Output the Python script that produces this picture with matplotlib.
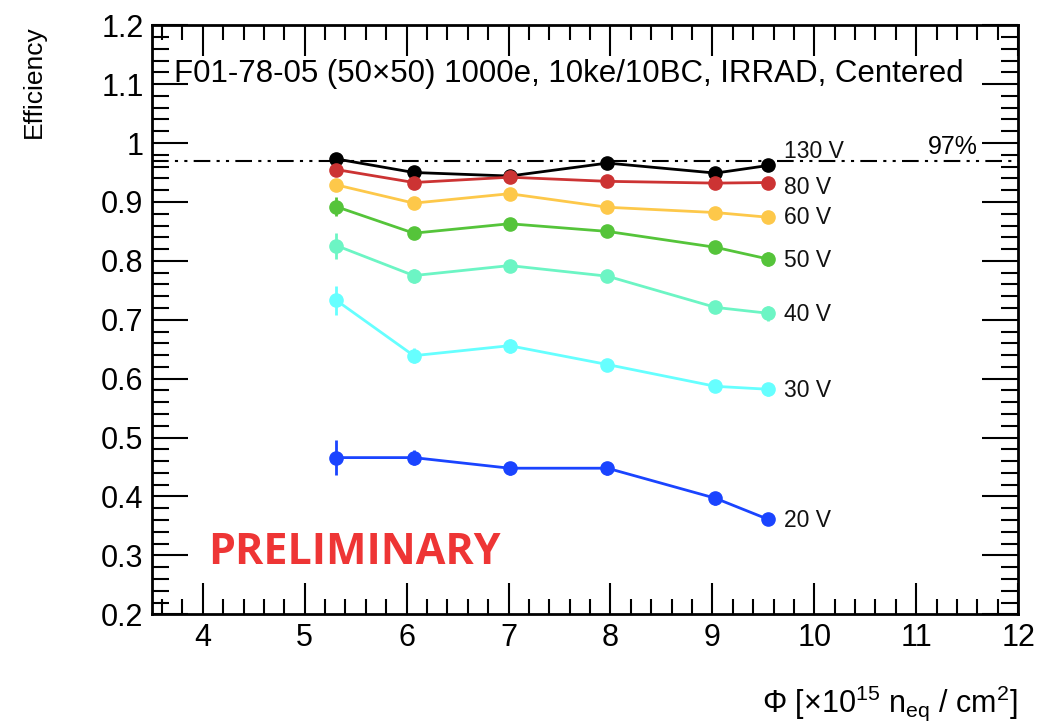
import matplotlib
matplotlib.use("Agg")
import matplotlib.pyplot as plt
from matplotlib.ticker import MultipleLocator

plt.rcParams['font.family'] = ['Liberation Sans', 'DejaVu Sans']
plt.rcParams['mathtext.fontset'] = 'custom'
plt.rcParams['mathtext.rm'] = 'Liberation Sans'
plt.rcParams['mathtext.it'] = 'Liberation Sans'

# fluence points [x10^15 neq/cm2]
fluence = [5.31, 6.07, 7.01, 7.97, 9.03, 9.55]

# efficiency per bias voltage
voltages = ['130 V', '80 V', '60 V', '50 V', '40 V', '30 V', '20 V']
eff = {
    '130 V': [0.973, 0.950, 0.944, 0.966, 0.949, 0.962],
    '80 V': [0.955, 0.933, 0.942, 0.935, 0.932, 0.933],
    '60 V': [0.929, 0.898, 0.914, 0.891, 0.882, 0.874],
    '50 V': [0.892, 0.847, 0.863, 0.850, 0.823, 0.803],
    '40 V': [0.826, 0.775, 0.792, 0.774, 0.721, 0.711],
    '30 V': [0.733, 0.639, 0.656, 0.624, 0.587, 0.582],
    '20 V': [0.466, 0.466, 0.448, 0.448, 0.397, 0.361],
}
err = {
    '130 V': [0.005, 0.005, 0.005, 0.005, 0.005, 0.005],
    '80 V': [0.006, 0.006, 0.006, 0.006, 0.006, 0.006],
    '60 V': [0.008, 0.006, 0.006, 0.006, 0.006, 0.006],
    '50 V': [0.016, 0.009, 0.009, 0.009, 0.009, 0.012],
    '40 V': [0.022, 0.012, 0.009, 0.009, 0.009, 0.013],
    '30 V': [0.025, 0.013, 0.012, 0.010, 0.009, 0.011],
    '20 V': [0.030, 0.013, 0.011, 0.011, 0.011, 0.010],
}
colors = {
    '130 V': '#000000', '80 V': '#cc3333', '60 V': '#fdc84a', '50 V': '#55c43a',
    '40 V': '#6cf5c4', '30 V': '#66ffff', '20 V': '#1a44ff',
}
label_y = {'130 V': 0.985, '80 V': 0.925, '60 V': 0.874, '50 V': 0.800,
           '40 V': 0.709, '30 V': 0.580, '20 V': 0.360}
threshold = 0.97

fig = plt.figure(figsize=(10.4, 7.21), dpi=100)
ax = fig.add_axes([0.146, 0.148, 0.833, 0.817])

for v in voltages:
    ax.errorbar(fluence, eff[v], yerr=err[v], color=colors[v], marker='o',
                markersize=9.5, lw=2, elinewidth=2, capsize=0, zorder=3)
    ax.text(fluence[-1] + 0.15, label_y[v], v, fontsize=16.5, va='center',
            ha='left', color='#111111')

ax.axhline(threshold, color='black', lw=1.5, dashes=[8, 3, 1.5, 3, 1.5, 3], zorder=2)
ax.text(11.6, threshold + 0.003, '97%', fontsize=18, ha='right', va='bottom')

ax.set_xlim(3.5, 12)
ax.set_ylim(0.2, 1.2)
ax.xaxis.set_major_locator(MultipleLocator(1))
ax.xaxis.set_minor_locator(MultipleLocator(0.2))
ax.yaxis.set_minor_locator(MultipleLocator(0.02))
ax.set_yticks([0.2, 0.3, 0.4, 0.5, 0.6, 0.7, 0.8, 0.9, 1.0, 1.1, 1.2])
ax.set_yticklabels(['0.2', '0.3', '0.4', '0.5', '0.6', '0.7', '0.8', '0.9', '1', '1.1', '1.2'])
ax.tick_params(which='both', direction='in', top=True, right=True, width=1.5)
ax.tick_params(which='major', length=26, labelsize=22, pad=6)
ax.tick_params(which='minor', length=12)
ax.tick_params(axis='x', which='major', length=22)
ax.tick_params(axis='x', which='minor', length=11)
for s in ax.spines.values():
    s.set_linewidth(2)

ax.set_ylabel('Efficiency', fontsize=19, loc='top', labelpad=40)
ax.set_xlabel(r'$\Phi$ [×10$^{15}$ n$_{\mathrm{eq}}$ / cm$^{2}$]', fontsize=22,
              loc='right', labelpad=22)

ax.text(3.72, 1.118, 'F01-78-05 (50×50) 1000e, 10ke/10BC, IRRAD, Centered',
        fontsize=22.5, ha='left', va='center')
ax.text(4.05, 0.305, 'PRELIMINARY', fontsize=31, fontweight='bold',
        color='#ee3535', family='Open Sans', ha='left', va='center')

fig.savefig('out.png', dpi=100)
